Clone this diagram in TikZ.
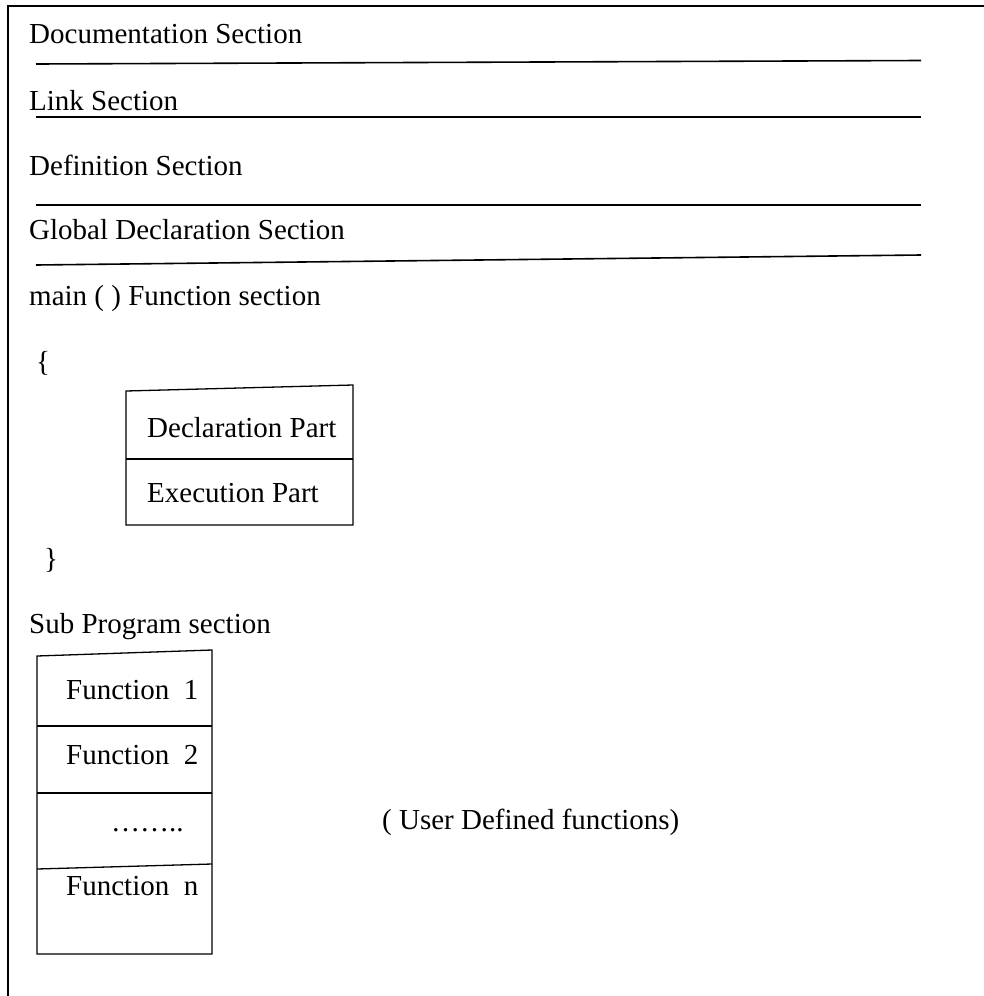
\documentclass[tikz,border=0pt]{standalone}
\usepackage{fontspec}
\setmainfont{Liberation Serif}
\begin{document}
\begin{tikzpicture}[x=1pt,y=-1pt,
  txt/.style={anchor=base west,inner sep=0pt,font=\fontsize{29}{34}\selectfont},
  sepline/.style={line width=1.6pt},
  boxline/.style={line width=1.3pt},
  frameline/.style={line width=1.6pt}]
\useasboundingbox (0,0) rectangle (984,996);
% outer frame (open on right and bottom)
\coordinate (ftr) at (990,6);
\coordinate (ftl) at (8,6);
\coordinate (fbl) at (8,1000);
\draw[frameline] (ftr) -- (ftl) -- (fbl);
% section texts
\node[txt] (doc) at (29,43) {Documentation Section};
\node[txt] (link) at (29,110) {Link Section};
\node[txt] (def) at (29,175) {Definition Section};
\node[txt] (glob) at (29,239) {Global Declaration Section};
\node[txt] (mainf) at (29,305) {main ( ) Function section};
\node[txt] (lbrace) at (36,371) {\{};
\node[txt] (rbrace) at (44,568) {\}};
\node[txt] (sub) at (29,633) {Sub Program section};
% separator lines
\coordinate (s1a) at (36,64);  \coordinate (s1b) at (921,60.5);
\coordinate (s2a) at (36,117); \coordinate (s2b) at (921,117);
\coordinate (s3a) at (36,205); \coordinate (s3b) at (921,205);
\coordinate (s4a) at (36,265); \coordinate (s4b) at (921,255);
\draw[sepline] (s1a) -- (s1b);
\draw[sepline] (s2a) -- (s2b);
\draw[sepline] (s3a) -- (s3b);
\draw[sepline] (s4a) -- (s4b);
% main() box
\coordinate (m1) at (126,391); \coordinate (m2) at (353,385);
\coordinate (m3) at (353,525); \coordinate (m4) at (126,525);
\coordinate (md1) at (126,459); \coordinate (md2) at (353,459);
\draw[boxline] (m1) -- (m2) -- (m3) -- (m4) -- cycle;
\draw[boxline] (md1) -- (md2);
\node[txt] (declp) at (147,437) {Declaration Part};
\node[txt] (execp) at (147,502) {Execution Part};
% sub program box
\coordinate (f1) at (37,656); \coordinate (f2) at (212,650);
\coordinate (f3) at (212,954); \coordinate (f4) at (37,954);
\coordinate (fa1) at (37,726); \coordinate (fa2) at (212,726);
\coordinate (fb1) at (37,793); \coordinate (fb2) at (212,793);
\coordinate (fc1) at (37,869); \coordinate (fc2) at (212,864);
\draw[boxline] (f1) -- (f2) -- (f3) -- (f4) -- cycle;
\draw[boxline] (fa1) -- (fa2);
\draw[boxline] (fb1) -- (fb2);
\draw[boxline] (fc1) -- (fc2);
\node[txt] (fn1) at (66,699) {Function\ \ 1};
\node[txt] (fn2) at (66,764) {Function\ \ 2};
\node[txt] (fdots) at (111,831) {……..};
\node[txt] (fnn) at (66,895) {Function\ \ n};
\node[txt] (udf) at (382,829) {( User Defined functions)};
\end{tikzpicture}
\end{document}
